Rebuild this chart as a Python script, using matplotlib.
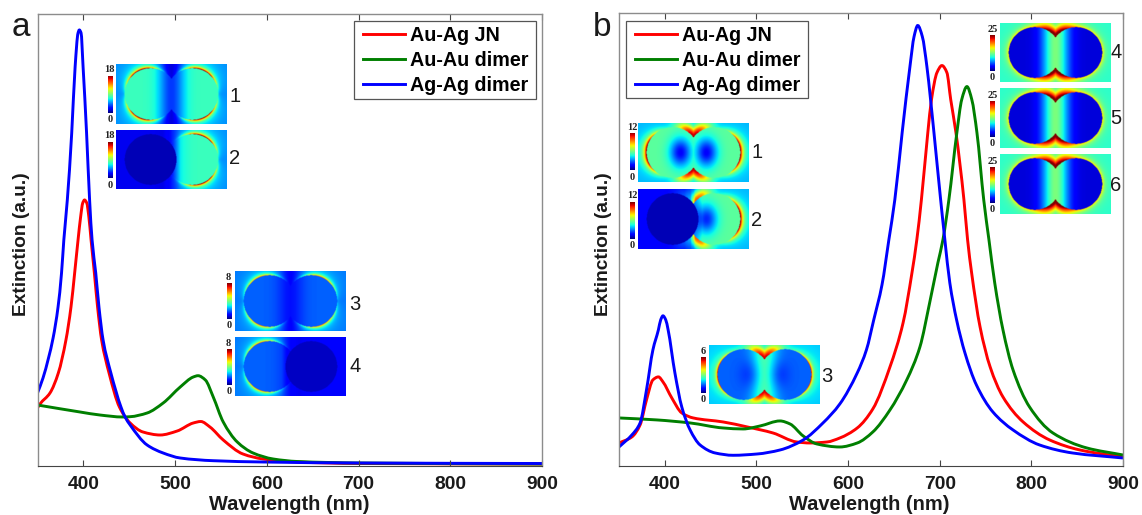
import numpy as np
import matplotlib
matplotlib.use("Agg")
import matplotlib.pyplot as plt
from matplotlib.lines import Line2D
from matplotlib.patches import PathPatch, Rectangle
from matplotlib.path import Path

W, H = 1142, 515

# -----------------------------------------------------------
# Espectros (longitud de onda, extincion)
# -----------------------------------------------------------

a_red_x = [350, 352.7, 363.6, 372.7, 381, 386.5, 390.5, 394.2, 397, 399.3, 401.3, 403.7, 406, 408.4, 412, 415.5, 419.9, 428, 439.3, 451, 465, 483.7, 502.3, 519.8, 528, 538, 552.5, 574, 596, 633, 700, 900]
a_red_y = [58, 62, 73, 93, 126, 159, 193, 226, 249, 263, 266, 263, 249, 226, 193, 159, 126, 93, 59, 43, 34, 31, 35, 43, 44.5, 39, 26, 12, 7, 4, 2.5, 2]
a_green_x = [350, 396.4, 418, 443, 451, 469.5, 487, 505.6, 519.8, 525, 533, 541.6, 552.5, 567.8, 585, 607, 633, 700, 900]
a_green_y = [61, 54, 51, 49, 49.3, 53, 63, 79, 89, 90.3, 86, 69, 44, 24, 13, 7, 4.5, 3, 2]
a_blue_x = [350, 356, 362, 367, 372.4, 376.2, 378.7, 382.5, 387.3, 391, 394.2, 395.6, 397.5, 399.7, 403.5, 406.8, 409.5, 413.5, 417, 421.5, 430, 441, 445.5, 451, 469.5, 487, 505.6, 541.6, 596, 700, 900]
a_blue_y = [73, 88, 108, 128, 159, 193, 226, 266, 333, 399, 433, 436, 433, 399, 333, 266, 226, 193, 159, 126, 93, 59, 49, 41, 21, 13, 8, 5.3, 4, 3, 2.5]

b_red_x = [350, 364, 373, 380, 387, 393, 398, 407.6, 418.5, 431, 463.6, 490, 518, 544, 558.5, 577, 591, 610, 627, 645.7, 660, 669.7, 675, 680, 687, 691, 697, 702.4, 707.8, 712, 717.7, 726.4, 730.4, 734.8, 744, 755, 769, 791, 820, 853, 900]
b_red_y = [23, 29, 41, 66, 86, 89, 84, 68, 53, 48, 44, 39, 33, 24, 23, 24, 28, 38, 57, 99, 143, 193, 226, 266, 333, 366, 393, 400, 393, 366, 333, 266, 226, 193, 139, 99, 69, 44, 26, 16, 9]
b_green_x = [350, 391.6, 427.6, 463.6, 485.4, 504, 525.7, 536.6, 551, 566, 591, 610, 627, 645.7, 664, 678.4, 689, 698, 703.5, 710, 718.7, 724, 729.7, 735, 740.6, 748, 753.7, 760, 769, 780, 798, 823.5, 860.6, 900]
b_green_y = [48, 46, 43, 38, 37, 40, 45, 42, 30, 22, 19, 23, 34, 56, 86, 119, 163, 203, 226, 266, 333, 366, 379, 366, 333, 266, 226, 183, 136, 96, 59, 33, 18, 11]
b_blue_x = [350, 364, 373, 380, 387, 393, 395.5, 398, 401, 403.6, 411, 418.5, 427.6, 438.5, 455, 474.5, 500.7, 525.7, 551, 572.6, 591, 610, 620, 628, 637, 644.5, 651, 659, 667.5, 672, 676, 681, 686, 690, 693.7, 701, 705.6, 711, 718.4, 727.5, 740, 758, 780, 809, 845, 900]
b_blue_y = [19, 31, 43, 76, 116, 136, 146, 150, 146, 136, 93, 59, 36, 21, 13, 10.7, 12, 16, 26, 43, 62, 93, 116, 146, 181, 226, 266, 333, 399, 429, 440, 429, 399, 366, 333, 266, 226, 183, 146, 113, 81, 54, 36, 21, 13, 8]

x_ticks = [400, 500, 600, 700, 800, 900]
labels = ["Au-Ag JN", "Au-Au dimer", "Ag-Ag dimer"]
colores = ["#ff0000", "#007f00", "#0000ff"]


def rect(l, t, r, b):
    return [l / W, 1 - b / H, (r - l) / W, (b - t) / H]


def texto(x, y, s, **kw):
    plt.gcf().text(x / W, 1 - y / H, s, ha="center", va="center", **kw)


def curva(xs, ys):
    # Camino Bezier que pasa por los puntos leidos, sin anadir valores
    xs = np.array(xs, dtype=float)
    ys = np.array(ys, dtype=float)
    h = np.diff(xs)
    s = np.diff(ys) / h
    m = np.zeros_like(xs)
    m[0] = s[0]
    m[-1] = s[-1]
    for i in range(1, len(xs) - 1):
        if s[i - 1] * s[i] > 0:
            w1 = 2 * h[i] + h[i - 1]
            w2 = h[i] + 2 * h[i - 1]
            m[i] = (w1 + w2) / (w1 / s[i - 1] + w2 / s[i])
    verts = [(xs[0], ys[0])]
    codes = [Path.MOVETO]
    for i in range(len(h)):
        verts.append((xs[i] + h[i] / 3, ys[i] + m[i] * h[i] / 3))
        verts.append((xs[i + 1] - h[i] / 3, ys[i + 1] - m[i + 1] * h[i] / 3))
        verts.append((xs[i + 1], ys[i + 1]))
        codes += [Path.CURVE4] * 3
    return Path(verts, codes)


# -----------------------------------------------------------
# Mapas de campo (dibujo esquematico de los recuadros)
# -----------------------------------------------------------

def mapa(box, inner, rim, bg, th0=65, pot=3, ancho=1.4, hueco=0.0, cuello=0.0, mancha=0.0, muesca=0.0):
    # inner, rim y bg son pares (circulo izquierdo, circulo derecho)
    ax = plt.gcf().add_axes(rect(*box))
    x, y = np.meshgrid(np.linspace(-55.5, 55.5, 222), np.linspace(-30, 30, 120))
    c = 21.0
    r = 26.0
    dl = np.hypot(x + c, y)
    dr = np.hypot(x - c, y)
    d = np.minimum(dl, dr) - r
    lado = np.clip(x / 18 + 0.5, 0, 1)

    def mezcla(par):
        return par[0] * (1 - lado) + par[1] * lado

    ang = np.arctan2(np.abs(y), np.abs(x) - c + 1e-6)
    peso = np.clip(np.cos(ang - np.radians(th0)), 0, 1) ** pot

    # lado de cada circulo para el borde caliente (corte neto si uno esta apagado)
    rim_lado = np.where(x < 0, rim[0], rim[1])
    fuera = mezcla(bg) * (1 - muesca * np.exp(-(x / 11) ** 2))
    fuera = fuera + rim_lado * peso * (np.exp(-np.abs(d) / ancho) + 0.3 * np.exp(-np.abs(d) / 7))
    gap = hueco * np.exp(-(d / 7) ** 2) * np.exp(-(x / 16) ** 2)
    if inner[0] < 0.1 and inner[1] > 0.1:
        gap = gap * np.clip(x / 6 + 0.7, 0.2, 1)
    fuera = fuera + gap

    dentro = mezcla(inner) * np.ones_like(x)
    dentro = dentro - mancha * np.exp(-((np.abs(x) - 13) / 11) ** 2 - (y / 15) ** 2)
    dentro = dentro + cuello * np.exp(-(x / 13) ** 2)
    if inner[0] < 0.1 and inner[1] > 0.1:
        dentro = np.where(dl < r, inner[0], dentro)
    if inner[1] < 0.1 and inner[0] > 0.1:
        dentro = np.where(dr < r, inner[1], dentro)

    z = np.where(d < 0, np.clip(dentro, 0.03, 1), fuera)
    ax.imshow(z, cmap="jet", vmin=0, vmax=1, aspect="auto", interpolation="bilinear")
    ax.axis("off")


def barra(x0, x1, t, b, tope):
    ax = plt.gcf().add_axes(rect(x0, t, x1, b))
    ax.imshow(np.linspace(1, 0, 64).reshape(-1, 1), cmap="jet", aspect="auto")
    ax.axis("off")
    sf = dict(family="Liberation Serif", weight="bold", fontsize=7.5, color="#222222")
    texto((x0 + x1) / 2, t - 6, tope, **sf)
    texto((x0 + x1) / 2, b + 7, "0", **sf)


# -----------------------------------------------------------
# Paneles
# -----------------------------------------------------------

def panel(box, series, marco):
    fig = plt.gcf()
    ax = fig.add_axes(rect(*box))
    for (xs, ys), col in zip(series, colores):
        ax.add_patch(PathPatch(curva(xs, ys), fill=False, edgecolor=col, lw=2.1))
    ax.set_xlim(350, 900)
    ax.set_ylim(0, 452.5)
    ax.set_yticks([])
    ax.set_xticks(x_ticks)
    ax.tick_params(axis="x", direction="in", top=True, length=4, width=0.8, color="#444444", pad=7)
    for t in ax.get_xticklabels():
        t.set_fontweight("bold")
        t.set_fontsize(13.8)
        t.set_color("#1a1a1a")
    for lado in ["top", "left", "right"]:
        ax.spines[lado].set_color("#8c8c8c")
        ax.spines[lado].set_linewidth(1.0)
    ax.spines["bottom"].set_color("#444444")

    # marco de la leyenda aparte, para fijar su tamano
    l, t, r, b = marco
    ax.add_patch(Rectangle((l / W, 1 - b / H), (r - l) / W, (b - t) / H, transform=fig.transFigure,
                           facecolor="white", edgecolor="#555555", lw=0.9, zorder=4, clip_on=False))
    handles = [Line2D([], [], color=c, lw=2.1) for c in colores]
    ley = ax.legend(handles, labels, loc="upper left", bbox_to_anchor=((l + 9) / W, 1 - (t + 5) / H),
                    bbox_transform=fig.transFigure, frameon=False, borderaxespad=0, borderpad=0,
                    labelspacing=0.3, handlelength=2.15, handletextpad=0.22,
                    prop=dict(weight="bold", size=14.2))
    ley.set_zorder(5)
    return ax


plt.rcParams["font.family"] = "Liberation Sans"
fig = plt.figure(figsize=(W / 100, H / 100), dpi=100)

panel((37.5, 13.5, 542, 466), [(a_red_x, a_red_y), (a_green_x, a_green_y), (a_blue_x, a_blue_y)], (354, 21, 536, 99))
panel((619, 13, 1123, 466), [(b_red_x, b_red_y), (b_green_x, b_green_y), (b_blue_x, b_blue_y)], (626, 21, 808, 98))

eje = dict(weight="bold", color="#1a1a1a")
texto(289, 505, "Wavelength (nm)", fontsize=14.4, **eje)
texto(869, 505, "Wavelength (nm)", fontsize=14.4, **eje)
texto(22, 244, "Extinction (a.u.)", rotation=90, fontsize=13.8, **eje)
texto(603, 244, "Extinction (a.u.)", rotation=90, fontsize=13.8, **eje)
texto(21, 28, "a", fontsize=24, color="#1a1a1a")
texto(602, 27, "b", fontsize=24, color="#1a1a1a")

# Recuadros del panel a
mapa((116, 64, 227, 124), (0.42, 0.42), (0.7, 0.7), (0.26, 0.26), cuello=-0.24, muesca=0.7)
mapa((116, 130, 227, 189), (0.05, 0.42), (0.0, 0.7), (0.1, 0.26), cuello=-0.1, muesca=0.2)
mapa((235, 271, 346, 331), (0.22, 0.22), (0.48, 0.48), (0.24, 0.24), cuello=-0.08, muesca=0.5)
mapa((235, 337, 346, 396), (0.22, 0.06), (0.48, 0.0), (0.24, 0.12), cuello=-0.05, muesca=0.3)
barra(107.5, 112, 76, 113, "18")
barra(107.5, 112, 142, 178, "18")
barra(226.5, 231, 283, 319, "8")
barra(226.5, 231, 349, 385, "8")

# Recuadros del panel b
mapa((638, 123, 749, 182), (0.46, 0.46), (0.62, 0.62), (0.3, 0.3), th0=10, ancho=2.4, hueco=0.66, mancha=0.34)
mapa((638, 189, 749, 249), (0.05, 0.46), (0.0, 0.62), (0.12, 0.3), th0=10, ancho=2.4, hueco=0.6, mancha=0.3)
mapa((709, 345, 820, 404), (0.22, 0.22), (0.5, 0.5), (0.32, 0.32), th0=10, pot=2, hueco=0.62, cuello=0.22, mancha=0.08)
mapa((1000, 23, 1111, 82), (0.08, 0.08), (0.22, 0.22), (0.4, 0.4), pot=0, ancho=2.0, hueco=0.52, cuello=0.42)
mapa((1000, 88, 1111, 148), (0.08, 0.08), (0.22, 0.22), (0.4, 0.4), pot=0, ancho=2.0, hueco=0.52, cuello=0.42)
mapa((1000, 154, 1111, 214), (0.08, 0.08), (0.22, 0.22), (0.4, 0.4), pot=0, ancho=2.0, hueco=0.52, cuello=0.42)
barra(630, 634.5, 133, 170, "12")
barra(630, 634.5, 202, 239, "12")
barra(701, 705.5, 357, 393, "6")
barra(990, 994.5, 35, 71, "25")
barra(990, 994.5, 101, 137, "25")
barra(990, 994.5, 167, 203, "25")

for x, y, s in [(235, 96, "1"), (235, 158, "2"), (355, 305, "3"), (355, 367, "4"),
                (757, 152, "1"), (757, 220, "2"), (827, 377, "3"),
                (1116, 53, "4"), (1116, 119, "5"), (1116, 185, "6")]:
    texto(x, y, s, fontsize=14.5, color="#1a1a1a")

fig.savefig("out.png", dpi=100)
